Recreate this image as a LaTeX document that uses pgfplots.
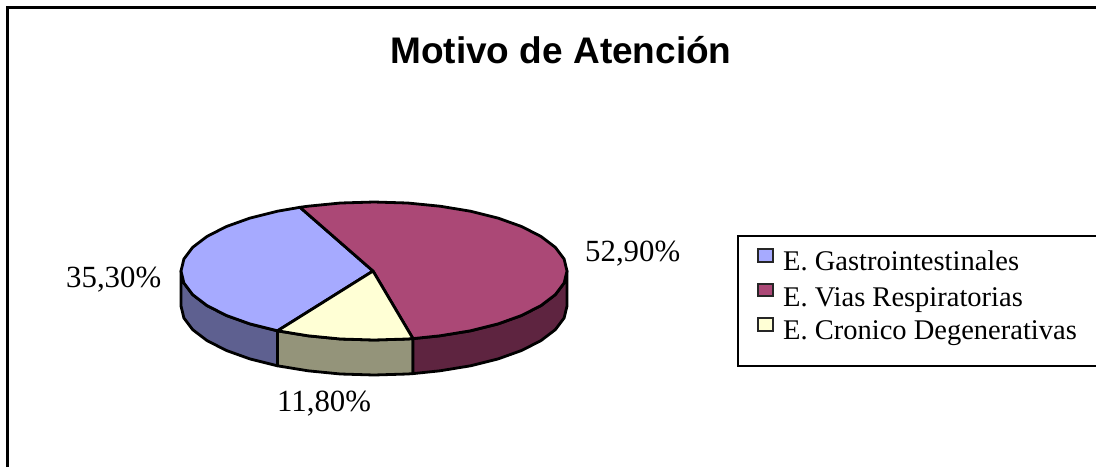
\documentclass[border=0pt]{standalone}
\usepackage{pgfplots}
\pgfplotsset{compat=1.18}
\usepackage{fontspec}
\setmainfont{Liberation Serif}
\newfontfamily\titlefont{Liberation Sans}
\definecolor{cblue}{HTML}{A6AAFF}
\definecolor{cmag}{HTML}{AB4876}
\definecolor{cyel}{HTML}{FFFFD5}
\definecolor{sblue}{HTML}{5E6090}
\definecolor{smag}{HTML}{5E2440}
\definecolor{syel}{HTML}{94947A}
\tikzset{
  pie/.style={draw=black, line width=2.8pt, line join=round},
  swatch/.style={draw=black!85, line width=2pt},
  ltext/.style={anchor=base west, inner sep=0pt, font=\fontsize{28.5}{30}\selectfont},
  lab/.style={anchor=base west, inner sep=0pt, font=\fontsize{30.8}{32}\selectfont},
}
\begin{document}
\begin{tikzpicture}[x=1pt,y=1pt]
\useasboundingbox (0,0) rectangle (1096pt,467pt);
\begin{axis}[
  scale only axis, width=1096pt, height=467pt,
  xmin=0, xmax=1096, ymin=0, ymax=467, y dir=reverse,
  hide axis, clip=true,
]
% frame
\addplot[forget plot, black, line width=3pt] coordinates {(7.5,467)(7.5,7.5)(1096,7.5)};
% sides
\addplot[forget plot, pie, fill=sblue] coordinates {(181,271)(183.9,283)(192.6,294.6)(206.9,305.5)(226.2,315.4)(249.9,323.9)(277.5,330.8)(277.5,365.8)(249.9,358.9)(226.2,350.4)(206.9,340.5)(192.6,329.6)(183.9,318)(181,306)} --cycle;
\addplot[forget plot, pie, fill=syel] coordinates {(277.5,330.8)(308,335.8)(340.5,339)(374,340)(407.5,339)(413,338.6)(413,373.6)(407.5,374)(374,375)(340.5,374)(308,370.8)(277.5,365.8)} --cycle;
\addplot[forget plot, pie, fill=smag] coordinates {(413,338.6)(440,335.8)(470.5,330.8)(498.1,323.9)(521.8,315.4)(541.1,305.5)(555.4,294.6)(564.1,283)(567,271)(567,306)(564.1,318)(555.4,329.6)(541.1,340.5)(521.8,350.4)(498.1,358.9)(470.5,365.8)(440,370.8)(413,373.6)} --cycle;
% top faces
\addplot[forget plot, pie, fill=cblue] coordinates {(373,271)(300,207.3)(277.5,211.2)(249.9,218.1)(226.2,226.6)(206.9,236.5)(192.6,247.4)(183.9,259)(181,271)(183.9,283)(192.6,294.6)(206.9,305.5)(226.2,315.4)(249.9,323.9)(277.5,330.8)} --cycle;
\addplot[forget plot, pie, fill=cmag] coordinates {(373,271)(413,338.6)(440,335.8)(470.5,330.8)(498.1,323.9)(521.8,315.4)(541.1,305.5)(555.4,294.6)(564.1,283)(567,271)(564.1,259)(555.4,247.4)(541.1,236.5)(521.8,226.6)(498.1,218.1)(470.5,211.2)(440,206.2)(407.5,203)(374,202)(340.5,203)(308,206.2)(300,207.3)} --cycle;
\addplot[forget plot, pie, fill=cyel] coordinates {(373,271)(277.5,330.8)(308,335.8)(340.5,339)(374,340)(407.5,339)(413,338.6)} --cycle;
% legend
\addplot[forget plot, black, line width=2.6pt] coordinates {(1096,236)(738,236)(738,366)(1096,366)};
\addplot[forget plot, swatch, fill=cblue] coordinates {(757.5,249)(773,249)(773,262)(757.5,262)} --cycle;
\addplot[forget plot, swatch, fill=cmag] coordinates {(757.5,284)(773,284)(773,295.5)(757.5,295.5)} --cycle;
\addplot[forget plot, swatch, fill=cyel] coordinates {(757.5,318)(773,318)(773,331)(757.5,331)} --cycle;
\node[ltext] at (axis cs:783,270) {E. Gastrointestinales};
\node[ltext] at (axis cs:783,306) {E. Vias Respiratorias};
\node[ltext] at (axis cs:783,339) {E. Cronico Degenerativas};
\node[anchor=base, font=\titlefont\bfseries\fontsize{37}{39}\selectfont] at (axis cs:561,63) {Motivo de Atención};
\node[lab] at (axis cs:66,287) {35,30\%};
\node[lab] at (axis cs:585,261) {52,90\%};
\node[lab] at (axis cs:277,411) {11,80\%};
\end{axis}
\end{tikzpicture}
\end{document}
